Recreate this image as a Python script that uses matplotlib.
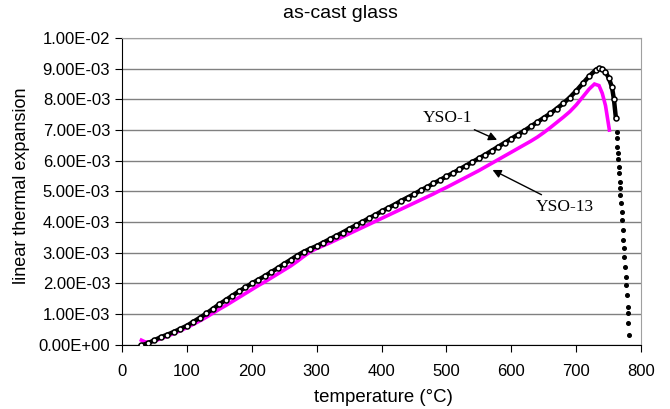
import matplotlib.pyplot as plt
from matplotlib.ticker import FuncFormatter

plt.rcParams['font.family'] = ['Liberation Sans', 'DejaVu Sans']

# YSO-1 (black open circles), continuous part up to the start of the drop
temp_yso1 = [30, 40, 50, 60, 70, 80, 90, 100, 110, 120, 130, 140, 150, 160, 170,
             180, 190, 200, 210, 220, 230, 240, 250, 260, 270, 280, 290, 300,
             310, 320, 330, 340, 350, 360, 370, 380, 390, 400, 410, 420, 430,
             440, 450, 460, 470, 480, 490, 500, 510, 520, 530, 540, 550, 560,
             570, 580, 590, 600, 610, 620, 630, 640, 650, 660, 670, 680, 690,
             700, 710, 720, 730, 735, 740, 745, 750, 755, 758, 761]
exp_yso1 = [-0.02, 0.05, 0.15, 0.25, 0.33, 0.42, 0.52, 0.62, 0.75, 0.88, 1.02,
            1.17, 1.32, 1.46, 1.60, 1.74, 1.87, 2.00, 2.12, 2.24, 2.37, 2.50,
            2.64, 2.77, 2.91, 3.03, 3.13, 3.22, 3.33, 3.44, 3.55, 3.66, 3.78,
            3.89, 4.00, 4.12, 4.23, 4.35, 4.46, 4.57, 4.69, 4.80, 4.91, 5.03,
            5.14, 5.26, 5.37, 5.49, 5.60, 5.72, 5.84, 5.96, 6.08, 6.20, 6.33,
            6.46, 6.59, 6.72, 6.85, 6.98, 7.12, 7.26, 7.40, 7.54, 7.70, 7.87,
            8.06, 8.28, 8.52, 8.76, 8.96, 9.02, 9.00, 8.90, 8.70, 8.40, 8.00,
            7.40]

# YSO-1 sparse points of the final drop
temp_yso1_tail = [762, 763, 763, 764, 765, 766, 766, 767, 768, 768, 769, 770,
                  771, 772, 772, 773, 774, 775, 776, 777, 778, 779, 779, 780, 781]
exp_yso1_tail = [6.94, 6.74, 6.45, 6.25, 6.06, 5.80, 5.60, 5.31, 5.11, 4.89,
                 4.63, 4.33, 4.07, 3.75, 3.42, 3.16, 2.87, 2.54, 2.21, 1.95,
                 1.63, 1.24, 1.04, 0.72, 0.33]

# YSO-13 (magenta)
temp_yso13 = [30, 35, 40, 50, 60, 70, 80, 90, 100, 110, 120, 130, 140, 150, 160,
              170, 180, 190, 200, 210, 220, 230, 240, 250, 260, 270, 280, 290,
              300, 310, 320, 330, 340, 350, 360, 370, 380, 390, 400, 410, 420,
              430, 440, 450, 460, 470, 480, 490, 500, 510, 520, 530, 540, 550,
              560, 570, 580, 590, 600, 610, 620, 630, 640, 650, 660, 670, 680,
              690, 700, 710, 720, 728, 735, 740, 745, 748, 751]
exp_yso13 = [0.15, 0.10, 0.08, 0.12, 0.20, 0.28, 0.37, 0.46, 0.56, 0.67, 0.78,
             0.90, 1.03, 1.16, 1.28, 1.41, 1.54, 1.67, 1.80, 1.93, 2.05, 2.18,
             2.31, 2.44, 2.57, 2.72, 2.88, 3.03, 3.14, 3.23, 3.32, 3.42, 3.52,
             3.62, 3.72, 3.82, 3.92, 4.02, 4.12, 4.22, 4.32, 4.42, 4.52, 4.62,
             4.72, 4.82, 4.92, 5.03, 5.13, 5.24, 5.35, 5.46, 5.57, 5.68, 5.80,
             5.92, 6.04, 6.16, 6.28, 6.40, 6.52, 6.64, 6.77, 6.92, 7.08, 7.25,
             7.42, 7.60, 7.82, 8.08, 8.34, 8.50, 8.45, 8.20, 7.80, 7.40, 7.00]

y_ticks = [0.0, 0.001, 0.002, 0.003, 0.004, 0.005, 0.006, 0.007, 0.008, 0.009, 0.01]
x_ticks = [0, 100, 200, 300, 400, 500, 600, 700, 800]

fig = plt.figure(figsize=(6.7, 4.09), dpi=100)
ax = fig.add_axes([0.182, 0.157, 0.775, 0.750])

ax.plot(temp_yso13, [v * 1e-3 for v in exp_yso13], color='#ff00ff', lw=2.6,
        solid_joinstyle='miter', zorder=3)
ax.plot(temp_yso1, [v * 1e-3 for v in exp_yso1], color='black', lw=3.2,
        marker='o', ms=3.6, mfc='white', mec='black', mew=1.1, zorder=4)
ax.plot(temp_yso1_tail, [v * 1e-3 for v in exp_yso1_tail], ls='none',
        marker='o', ms=2.6, color='black', zorder=4)

ax.set_xlim(0, 800)
ax.set_ylim(0, 0.01)
ax.set_xticks(x_ticks)
ax.set_yticks(y_ticks)
ax.yaxis.set_major_formatter(FuncFormatter(
    lambda v, p: '0.00E+00' if v == 0 else '%.2E' % v))
ax.grid(axis='y', color='#808080', lw=1)
ax.set_axisbelow(True)
ax.tick_params(labelsize=12, direction='out', length=5, color='black')
ax.tick_params(axis='x', pad=9)
for s in ['top', 'right']:
    ax.spines[s].set_color('#a0a0a0')
for s in ['left', 'bottom']:
    ax.spines[s].set_color('black')

ax.annotate('YSO-1', xy=(578, 0.00668), xytext=(502, 0.0074),
            ha='center', va='center', family='Liberation Serif', fontsize=12.5,
            arrowprops=dict(arrowstyle='-|>', color='black', lw=1, shrinkA=2, shrinkB=0))
ax.annotate('YSO-13', xy=(571, 0.0057), xytext=(683, 0.0045),
            ha='center', va='center', family='Liberation Serif', fontsize=12.5,
            arrowprops=dict(arrowstyle='-|>', color='black', lw=1, shrinkA=2, shrinkB=0))

fig.text(340 / 670, 1 - 14 / 409, 'as-cast glass', ha='center', va='center', fontsize=14)
fig.text(22 / 670, 1 - 186 / 409, 'linear thermal expansion', rotation=90,
         ha='center', va='center', fontsize=13)
fig.text(383 / 670, 1 - 398 / 409, 'temperature (\u00b0C)', ha='center', va='center',
         fontsize=13.4)

fig.savefig('out.png', dpi=100)
